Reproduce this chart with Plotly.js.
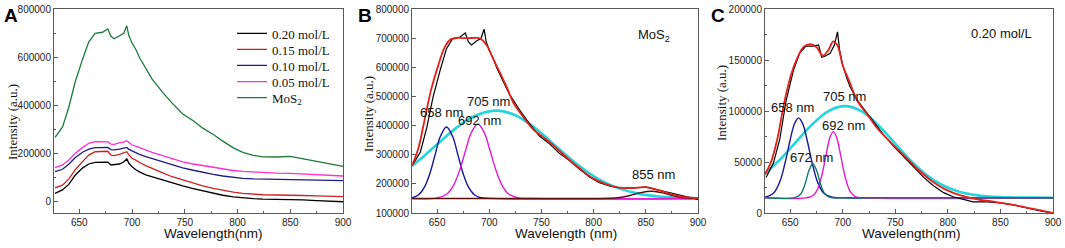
<!DOCTYPE html>
<html>
<head>
<meta charset="utf-8">
<script src="https://cdn.plot.ly/plotly-3.0.1.min.js"></script>
<style>html,body{margin:0;padding:0;background:#fff;}#chart{width:1065px;height:248px;}</style>
</head>
<body>
<div id="chart"></div>
<script>
// ---------- Panel A: PL spectra (common wavelength grid) ----------
const wlA = [627, 634, 640, 646, 653, 659, 665, 672, 677, 680, 683, 688, 692, 695, 697, 700, 704, 707, 713, 719, 729, 738, 748, 758, 767, 777, 786, 796, 805, 815, 824, 837, 850, 862, 875, 888, 900];
const c020 = [35000, 49000, 72000, 110000, 140000, 157000, 164000, 164000, 165000, 153000, 154000, 157000, 165000, 178000, 160000, 145000, 132000, 124000, 112000, 104000, 90000, 78000, 66000, 55000, 45000, 35000, 27000, 20000, 16000, 13000, 11000, 11000, 10000, 8000, 5000, 2000, 0];
const c015 = [58000, 69000, 94000, 132000, 167000, 194000, 208000, 208000, 210000, 194000, 192000, 197000, 203000, 208000, 195000, 181000, 172000, 163000, 150000, 138000, 120000, 104000, 90000, 78000, 66000, 56000, 48000, 40000, 35000, 31000, 29000, 28000, 28000, 26000, 24000, 22000, 21000];
const c010 = [125000, 135000, 156000, 183000, 206000, 219000, 225000, 225000, 226000, 217000, 216000, 219000, 222000, 226000, 218000, 211000, 204000, 197000, 188000, 180000, 168000, 155000, 141000, 131000, 122000, 114000, 107000, 101000, 97000, 95000, 94000, 94000, 94000, 92000, 90000, 89000, 87500];
const c005 = [142000, 153000, 174000, 201000, 225000, 243000, 250000, 250000, 249000, 240000, 239000, 245000, 248000, 254000, 245000, 236000, 230000, 225000, 215000, 205000, 192000, 179000, 166000, 157000, 150000, 143000, 136000, 130000, 126000, 123000, 121000, 119000, 118000, 116000, 113000, 110000, 107000];
const mos2 = [268000, 310000, 392000, 497000, 592000, 665000, 700000, 705000, 719000, 688000, 678000, 692000, 700000, 732000, 690000, 660000, 630000, 600000, 555000, 510000, 455000, 410000, 365000, 337000, 306000, 280000, 252000, 224000, 205000, 193000, 187000, 186000, 189000, 179000, 166000, 156000, 147000];
const seriesNamesA = ['0.20 mol/L', '0.15 mol/L', '0.10 mol/L', '0.05 mol/L', 'MoS<sub>2</sub>'];

// ---------- Panel B: MoS2 fit ----------
const wlFitB = [626, 632, 638, 644, 651, 657, 663, 670, 679, 689, 693, 698, 704, 711, 717, 723, 733, 742, 752, 761, 774, 787, 799, 812, 825, 837, 850, 863, 875, 888, 900];
const fitB = [263000, 322000, 420000, 520000, 606000, 668000, 697000, 702000, 701000, 702000, 696000, 674000, 628000, 577000, 531000, 480000, 428000, 388000, 360000, 334000, 291000, 252000, 220000, 199000, 187000, 186000, 189000, 178000, 164000, 155000, 151000];
const wlB658 = [626, 632, 638, 643, 648, 653, 659, 665, 670, 675, 680, 686, 692, 700, 900];
const pkB658 = [152700, 162000, 190000, 235000, 299000, 362000, 396000, 362000, 299000, 235000, 190000, 162000, 152700, 150500, 150000];
const wlB692 = [626, 650, 660, 666, 672, 677, 683, 689, 695, 701, 706, 712, 718, 728, 740, 900];
const pkB692 = [150000, 152000, 167400, 197000, 251600, 311500, 378000, 406000, 378000, 311500, 251600, 197000, 167400, 152000, 150000, 150000];
const wlB705 = [626, 640, 655, 670, 685, 706, 725, 745, 765, 785, 805, 825, 845, 865, 885, 900];
const pkB705 = [262000, 304000, 352000, 397000, 432000, 452000, 436000, 389000, 326000, 265000, 216000, 184000, 165000, 156000, 152000, 151000];
const wlB855 = [626, 800, 815, 825, 835, 845, 855, 865, 875, 885, 900];
const pkB855 = [150000, 150000, 150700, 153400, 160300, 170000, 175000, 170000, 160300, 153400, 150700];

// ---------- Panel C: 0.20 mol/L fit ----------
const wlFitC = [626, 632, 638, 644, 651, 657, 663, 669, 675, 681, 686, 691, 695, 700, 706, 714, 724, 733, 746, 759, 772, 784, 797, 813, 829, 845, 861, 877, 893, 900];
const fitC = [37800, 51000, 74000, 107000, 136500, 153000, 163500, 166000, 163000, 154500, 159500, 168700, 164500, 145000, 130000, 110000, 96000, 83000, 69000, 56000, 42500, 32000, 23500, 17000, 13300, 10900, 8200, 4900, 1600, 0];
const wlC658 = [626, 634, 640, 645, 650, 654, 658, 662, 666, 671, 676, 682, 690, 700, 900];
const pkC658 = [15500, 19400, 30500, 48700, 72000, 87500, 93500, 87500, 72000, 48700, 30500, 19400, 15500, 15000, 15000];
const wlC672 = [626, 655, 660, 664, 668, 671.5, 675, 679, 683, 688, 700, 900];
const pkC672 = [15000, 15400, 18700, 28000, 42200, 48400, 42200, 28000, 18700, 15400, 15000, 15000];
const wlC692 = [626, 670, 675, 680, 684, 688, 691, 694, 698, 702, 707, 712, 720, 900];
const pkC692 = [15000, 16200, 21300, 36600, 56600, 74800, 80000, 74800, 56600, 36600, 21300, 16200, 15000, 15000];
const wlC705 = [626, 640, 655, 670, 686, 702, 718, 734, 749, 764, 780, 795, 810, 830, 850, 875, 900];
const pkC705 = [38900, 52200, 69200, 86100, 99900, 105000, 99900, 86100, 69200, 52200, 37200, 27300, 21200, 17100, 15600, 15100, 15000];

// ---------- styling ----------
const SANS = 'Liberation Sans, Arial, sans-serif';
const SERIF = 'Liberation Serif, Times New Roman, serif';
const colA = ['#000000', '#cc2222', '#1c1c8a', '#ff2fd0', '#1d7a3a'];
const legendIds = ['legend', 'legend2', 'legend3', 'legend4', 'legend5'];

const traces = [];
// Panel A
[c020, c015, c010, c005, mos2].forEach((ys, i) => {
  traces.push({x: wlA, y: ys, xaxis: 'x', yaxis: 'y', type: 'scatter', mode: 'lines',
    name: seriesNamesA[i], legend: legendIds[i], line: {color: colA[i], width: 1.3}});
});
// Panel B
const lineB = (x, y, c, w, s) => ({x, y, xaxis: 'x2', yaxis: 'y2', type: 'scatter', mode: 'lines',
  showlegend: false, hoverinfo: 'skip', line: {color: c, width: w, shape: s || 'spline'}});
traces.push(lineB(wlB705, pkB705, '#22d6dc', 2.6));
traces.push(lineB(wlB658, pkB658, '#161696', 1.4));
traces.push(lineB(wlB692, pkB692, '#e41ad2', 1.4));
traces.push(lineB(wlB855, pkB855, '#5a0d0d', 1.4));
traces.push(lineB(wlA, mos2, '#000000', 1.2, 'linear'));
traces.push(lineB(wlFitB, fitB, '#e3211c', 1.8));
// Panel C
const lineC = (x, y, c, w, s) => ({x, y, xaxis: 'x3', yaxis: 'y3', type: 'scatter', mode: 'lines',
  showlegend: false, hoverinfo: 'skip', line: {color: c, width: w, shape: s || 'spline'}});
traces.push(lineC(wlC705, pkC705, '#22d6dc', 2.6));
traces.push(lineC(wlC658, pkC658, '#161696', 1.4));
traces.push(lineC(wlC692, pkC692, '#e41ad2', 1.4));
traces.push(lineC(wlC672, pkC672, '#0f7a6a', 1.4));
traces.push(lineC(wlA, c020, '#000000', 1.2, 'linear'));
traces.push(lineC(wlFitC, fitC, '#e3211c', 1.8));

const ax = (extra) => Object.assign({
  showline: true, linecolor: '#5a5a5a', linewidth: 1, mirror: true,
  ticks: 'inside', ticklen: 4, tickcolor: '#5a5a5a', showgrid: false, zeroline: false,
  tickfont: {family: SANS, size: 10, color: '#222'}, automargin: false
}, extra);
const xBase = (dom, anchor) => ax({domain: dom, anchor: anchor, range: [626, 900], dtick: 50, tick0: 0,
  minor: {ticks: 'inside', dtick: 25, ticklen: 2, tickcolor: '#5a5a5a'}});
const yDom = [0.141, 0.962];

const legendRow = (yPx) => ({x: 232 / 1065, y: 1 - yPx / 248, xanchor: 'left', yanchor: 'middle',
  bgcolor: 'rgba(0,0,0,0)', borderwidth: 0, font: {family: SERIF, size: 13, color: '#111'}, itemwidth: 30});
const legendRowsPx = [33.5, 49.5, 65.5, 81.7, 97.7];

const ann = (text, xref, yref, x, y, size, extra) => Object.assign({text, xref, yref, x, y, showarrow: false,
  xanchor: 'center', yanchor: 'middle',
  font: {family: SANS, size: size || 13, color: '#111'}}, extra || {});
const P = (px) => px / 1065, Q = (py) => 1 - py / 248;
const serifTitle = {textangle: -90, font: {family: SERIF, size: 13, color: '#111'}};

const layout = {
  width: 1065, height: 248, margin: {l: 0, r: 0, t: 0, b: 0},
  paper_bgcolor: '#ffffff', plot_bgcolor: '#ffffff',
  showlegend: true,
  xaxis: xBase([0.0507, 0.3221], 'y'),
  yaxis: ax({domain: yDom, anchor: 'x', range: [-47000, 800000], dtick: 200000, tickformat: 'd',
    minor: {ticks: 'inside', dtick: 100000, ticklen: 2, tickcolor: '#5a5a5a'}}),
  xaxis2: xBase([0.3869, 0.6554], 'y2'),
  yaxis2: ax({domain: yDom, anchor: 'x2', range: [100000, 800000], dtick: 100000, tickformat: 'd'}),
  xaxis3: xBase([0.7183, 0.9887], 'y3'),
  yaxis3: ax({domain: yDom, anchor: 'x3', range: [0, 200000], dtick: 50000, tickformat: 'd',
    minor: {ticks: 'inside', dtick: 25000, ticklen: 2, tickcolor: '#5a5a5a'}}),
  annotations: [
    ann('<b>A</b>', 'paper', 'paper', P(2), Q(3), 19, {xanchor: 'left', yanchor: 'top', font: {family: SANS, size: 19, color: '#000'}}),
    ann('<b>B</b>', 'paper', 'paper', P(356), Q(3), 19, {xanchor: 'left', yanchor: 'top', font: {family: SANS, size: 19, color: '#000'}}),
    ann('<b>C</b>', 'paper', 'paper', P(709), Q(3), 19, {xanchor: 'left', yanchor: 'top', font: {family: SANS, size: 19, color: '#000'}}),
    // axis titles
    ann('Wavelength(nm)', 'paper', 'paper', P(213), Q(233), 13.5),
    ann('Wavelength (nm)', 'paper', 'paper', P(566), Q(233), 13.5),
    ann('Wavelength(nm)', 'paper', 'paper', P(911), Q(233), 13.5),
    ann('Intensity (a.u.)', 'paper', 'paper', P(12), Q(122), 13, serifTitle),
    ann('Intensity (a.u.)', 'paper', 'paper', P(368), Q(114), 13, serifTitle),
    ann('Intensity (a.u.)', 'paper', 'paper', P(722), Q(103), 13, serifTitle),
    // panel B labels
    ann('MoS<sub>2</sub>', 'x2', 'y2', 858, 712000),
    ann('658 nm', 'x2', 'y2', 654, 447000),
    ann('705 nm', 'x2', 'y2', 699, 482000),
    ann('692 nm', 'x2', 'y2', 691, 417500),
    ann('855 nm', 'x2', 'y2', 857, 234000),
    // panel C labels
    ann('0.20 mol/L', 'x3', 'y3', 851.5, 176500),
    ann('658 nm', 'x3', 'y3', 652.6, 103400),
    ann('705 nm', 'x3', 'y3', 702, 114900),
    ann('692 nm', 'x3', 'y3', 700.7, 86400),
    ann('672 nm', 'x3', 'y3', 670.2, 54300)
  ]
};
legendIds.forEach((id, i) => { layout[id] = legendRow(legendRowsPx[i]); });

Plotly.newPlot('chart', traces, layout, {staticPlot: true, displayModeBar: false});
</script>
</body>
</html>
